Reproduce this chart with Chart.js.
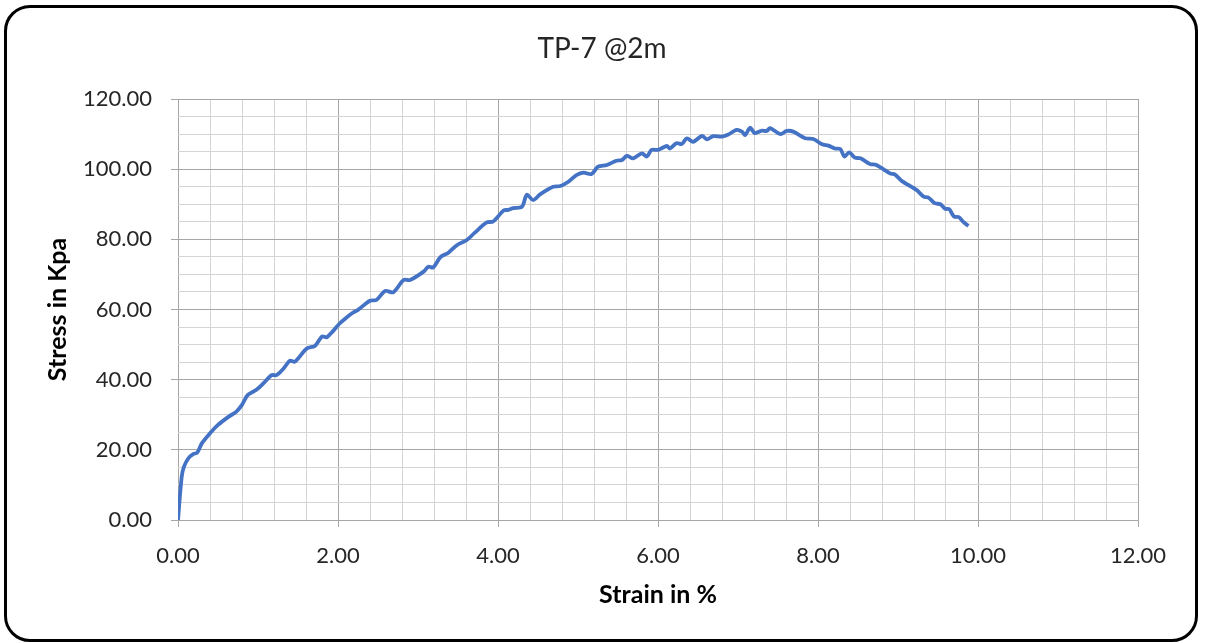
<!DOCTYPE html>
<html>
<head>
<meta charset="utf-8">
<script src="https://cdn.jsdelivr.net/npm/chart.js@4.4.0/dist/chart.umd.min.js"></script>
<style>
  html, body { margin: 0; padding: 0; background: #fff; }
  #frame {
    position: absolute; left: 4px; top: 5px;
    width: 1194px; height: 637px;
    box-sizing: border-box;
    border: 3px solid #000; border-radius: 26px;
    overflow: hidden;
  }
  #chart { display: block; }
</style>
</head>
<body>
<div id="frame"><canvas id="chart" width="1188" height="631"></canvas></div>
<script>
// TP-7 @2m stress-strain readings
const strain = [
  0, 0.046, 0.075, 0.13, 0.19, 0.24, 0.30, 0.40, 0.50, 0.63,
  0.73, 0.80, 0.87, 0.98, 1.07, 1.17, 1.23, 1.32, 1.40, 1.46,
  1.61, 1.71, 1.80, 1.86, 1.94, 2.02, 2.10, 2.18, 2.25, 2.40,
  2.48, 2.59, 2.69, 2.82, 2.90, 3.07, 3.13, 3.19, 3.28, 3.38,
  3.49, 3.61, 3.71, 3.86, 3.94, 4.07, 4.13, 4.19, 4.30, 4.36,
  4.44, 4.53, 4.69, 4.78, 4.88, 4.98, 5.07, 5.17, 5.25, 5.36,
  5.48, 5.55, 5.61, 5.69, 5.80, 5.86, 5.92, 6.00, 6.11, 6.15,
  6.23, 6.30, 6.36, 6.44, 6.55, 6.61, 6.69, 6.80, 6.88, 6.98,
  7.05, 7.09, 7.15, 7.21, 7.30, 7.36, 7.40, 7.53, 7.61, 7.69,
  7.84, 7.94, 8.05, 8.13, 8.21, 8.28, 8.33, 8.39, 8.46, 8.53,
  8.65, 8.73, 8.90, 8.96, 9.05, 9.23, 9.32, 9.38, 9.46, 9.53,
  9.59, 9.64, 9.70, 9.76, 9.82, 9.88
];
const stress = [
  0, 12.3, 15.2, 17.6, 18.8, 19.2, 21.9, 24.7, 27.1, 29.4,
  30.9, 32.8, 35.6, 37.1, 39.0, 41.3, 41.3, 43.2, 45.4, 45.1,
  48.9, 49.6, 52.3, 52.1, 53.9, 56.0, 57.6, 59.0, 59.9, 62.5,
  62.7, 65.3, 64.9, 68.4, 68.4, 70.8, 72.2, 72.0, 74.9, 76.2,
  78.4, 79.8, 81.9, 84.8, 85.1, 88.2, 88.4, 88.9, 89.3, 92.7,
  91.2, 92.9, 95.0, 95.2, 96.4, 98.3, 99.0, 98.6, 100.7, 101.2,
  102.4, 102.6, 103.8, 103.1, 104.5, 103.6, 105.5, 105.5, 106.6, 105.9,
  107.4, 107.2, 108.8, 107.8, 109.5, 108.5, 109.4, 109.3, 109.9, 111.2,
  110.7, 109.7, 111.8, 110.3, 111.0, 110.9, 111.7, 110.0, 110.9, 110.7,
  108.8, 108.6, 107.1, 106.7, 105.9, 105.7, 103.6, 104.8, 103.3, 103.1,
  101.5, 101.2, 98.8, 98.5, 96.6, 94.1, 92.2, 91.9, 90.3, 90.0,
  88.7, 88.6, 86.5, 86.3, 84.9, 83.8
];

// axis setup: major labels every 2 / 20, minor grid every 0.4 / 5
const xMin = 0, xMax = 12, xMajor = 2, xMinor = 0.4;
const yMin = 0, yMax = 120, yMajor = 20, yMinor = 5;
const chartTitle = 'TP-7 @2m';

const FONT = "Lato, 'Open Sans', sans-serif";
const MAJOR_GRID = '#a6a6a6';
const MINOR_GRID = '#d4d4d4';

function isMajor(v, step) {
  const r = v / step;
  return Math.abs(r - Math.round(r)) < 1e-6;
}

// title centred on the whole canvas (the built-in one centres on the padded box)
const centredTitle = {
  id: 'centredTitle',
  afterDraw(chart) {
    const ctx = chart.ctx;
    ctx.save();
    ctx.font = `normal 28px ${FONT}`;
    ctx.fillStyle = '#262626';
    ctx.textAlign = 'center';
    ctx.textBaseline = 'middle';
    ctx.fillText(chartTitle, chart.width / 2 + 1, 41);
    ctx.restore();
  }
};

new Chart(document.getElementById('chart').getContext('2d'), {
  type: 'line',
  data: {
    datasets: [{
      data: strain.map((s, i) => ({ x: s, y: stress[i] })),
      borderColor: '#4472c4',
      borderWidth: 3.8,
      pointRadius: 0,
      tension: 0.3,
      fill: false
    }]
  },
  options: {
    responsive: false,
    animation: false,
    layout: { padding: { left: 0, right: 57, top: 91, bottom: 0 } },
    plugins: {
      legend: { display: false },
      tooltip: { enabled: false },
      title: { display: false }
    },
    scales: {
      x: {
        type: 'linear',
        min: xMin, max: xMax,
        afterFit(scale) { scale.height = 119; },
        ticks: {
          stepSize: xMinor,
          autoSkip: false,
          maxRotation: 0,
          padding: 16,
          color: '#262626',
          font: { family: FONT, size: 22 },
          callback: v => isMajor(v, xMajor) ? v.toFixed(2) : ''
        },
        grid: {
          color: c => isMajor(c.tick.value, xMajor) ? MAJOR_GRID : MINOR_GRID,
          tickColor: c => isMajor(c.tick.value, xMajor) ? MAJOR_GRID : 'rgba(0,0,0,0)',
          tickLength: 7,
          lineWidth: 1
        },
        border: { display: false },
        title: {
          display: true,
          text: 'Strain in %',
          color: '#000',
          font: { family: FONT, size: 25, weight: 'bold' },
          padding: { top: 0, bottom: 29 }
        }
      },
      y: {
        min: yMin, max: yMax,
        afterFit(scale) { scale.width = 171; },
        ticks: {
          stepSize: yMinor,
          autoSkip: false,
          padding: 19,
          color: '#262626',
          font: { family: FONT, size: 22 },
          callback: v => isMajor(v, yMajor) ? v.toFixed(2) : ''
        },
        grid: {
          color: c => isMajor(c.tick.value, yMajor) ? MAJOR_GRID : MINOR_GRID,
          tickColor: c => isMajor(c.tick.value, yMajor) ? MAJOR_GRID : 'rgba(0,0,0,0)',
          tickLength: 7,
          lineWidth: 1
        },
        border: { display: false },
        title: {
          display: true,
          text: 'Stress in Kpa',
          color: '#000',
          font: { family: FONT, size: 25, weight: 'bold' },
          padding: { top: 36, bottom: 0 }
        }
      }
    }
  },
  plugins: [centredTitle]
});
</script>
</body>
</html>
